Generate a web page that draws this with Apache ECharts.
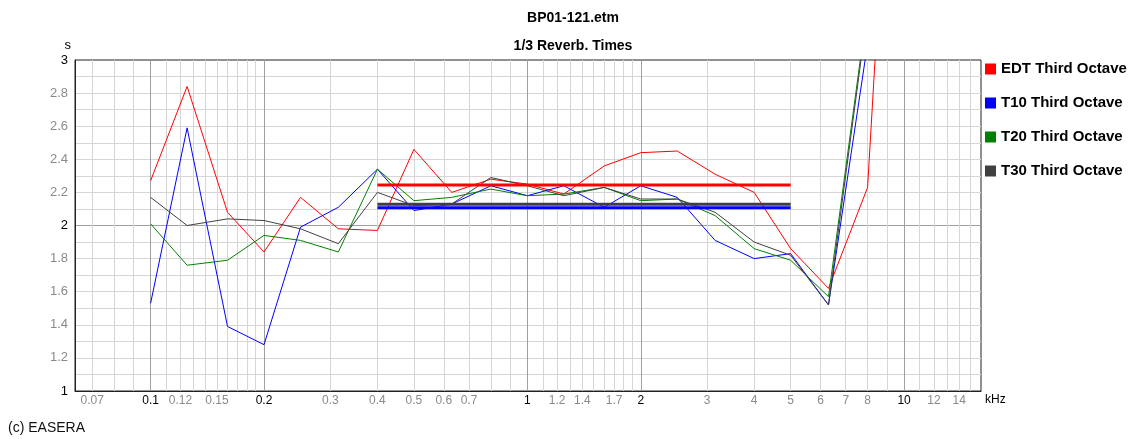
<!DOCTYPE html>
<html>
<head>
<meta charset="utf-8">
<title>BP01-121.etm - 1/3 Reverb. Times</title>
<script src="https://cdn.jsdelivr.net/npm/echarts@6/dist/echarts.min.js"></script>
<style>
  html, body { margin: 0; padding: 0; background: #ffffff; }
  #chart { width: 1146px; height: 439px; }
</style>
</head>
<body>
<div id="chart"></div>
<script>
// Third-octave band centre frequencies (kHz)
const freqs = [0.1, 0.125, 0.16, 0.2, 0.25, 0.315, 0.4, 0.5, 0.63, 0.8, 1, 1.25, 1.6, 2, 2.5, 3.15, 4, 5, 6.3, 8, 10];

// Reverberation times per band (s)
const edt = [2.27, 2.84, 2.08, 1.84, 2.17, 1.98, 1.97, 2.46, 2.20, 2.28, 2.25, 2.19, 2.36, 2.44, 2.45, 2.31, 2.20, 1.86, 1.62, 2.23, 6.0];
const t10 = [1.53, 2.59, 1.39, 1.28, 1.99, 2.11, 2.34, 2.09, 2.13, 2.24, 2.18, 2.24, 2.11, 2.24, 2.17, 1.91, 1.80, 1.83, 1.52, 3.10, 5.5];
const t20 = [2.01, 1.76, 1.79, 1.94, 1.91, 1.84, 2.34, 2.15, 2.17, 2.22, 2.18, 2.19, 2.23, 2.15, 2.16, 2.06, 1.86, 1.79, 1.57, 3.33, 5.5];
const t30 = [2.17, 2.00, 2.04, 2.03, 1.98, 1.89, 2.20, 2.12, 2.13, 2.29, 2.24, 2.18, 2.23, 2.16, 2.16, 2.08, 1.90, 1.82, 1.52, 3.30, 5.5];

// Averages over the 400 Hz - 5 kHz range
const avgRange = [0.4, 5];
const edtAvg = 2.245;
const t10Avg = 2.108;
const t30Avg = 2.128;

const seriesNames = ['EDT Third Octave', 'T10 Third Octave', 'T20 Third Octave', 'T30 Third Octave'];
const seriesColors = ['#ff0000', '#0000ff', '#008000', '#404040'];

// Frequency grid (kHz)
const xMin = 0.063, xMax = 16;
const majorGrid = [0.1, 0.2, 1, 2, 10];
const minorGrid = [0.07, 0.08, 0.09,
  0.11, 0.12, 0.13, 0.14, 0.15, 0.16, 0.17, 0.18, 0.19,
  0.3, 0.4, 0.5, 0.6, 0.7, 0.8, 0.9,
  1.1, 1.2, 1.3, 1.4, 1.5, 1.6, 1.7, 1.8, 1.9,
  3, 4, 5, 6, 7, 8, 9,
  11, 12, 13, 14, 15];
const xTickLabels = ['0.07', '0.1', '0.12', '0.15', '0.2', '0.3', '0.4', '0.5', '0.6', '0.7',
  '1', '1.2', '1.4', '1.7', '2', '3', '4', '5', '6', '7', '8', '10', '12', '14'];
const yTickLabels = ['1', '1.2', '1.4', '1.6', '1.8', '2', '2.2', '2.4', '2.6', '2.8', '3'];
const yMajor = ['1', '2', '3'];

const FONT = '"Liberation Sans", Arial, sans-serif';

function pairs(xs, ys) { return xs.map((x, i) => [x, ys[i]]); }

// Vertical frequency grid lines with their labels under the plot
const gridMarks = [];
majorGrid.concat(minorGrid).sort((a, b) => a - b).forEach(f => {
  const isMajor = majorGrid.indexOf(f) >= 0;
  const txt = xTickLabels.find(s => parseFloat(s) === f);
  gridMarks.push({
    xAxis: f,
    name: txt || '',
    lineStyle: { color: isMajor ? '#a0a0a0' : '#d6d6d6', width: 1, type: 'solid' },
    label: {
      show: !!txt,
      formatter: '{b}',
      position: 'start',
      distance: 4,
      color: isMajor ? '#000000' : '#8a8a8a',
      fontFamily: FONT,
      fontSize: 12
    }
  });
});

const curveSeries = seriesNames.map((name, i) => ({
  name: name,
  type: 'line',
  data: pairs(freqs, [edt, t10, t20, t30][i]),
  symbol: 'none',
  clip: true,
  z: 10,
  lineStyle: { color: seriesColors[i], width: 1 },
  itemStyle: { color: seriesColors[i] }
}));

function avgSeries(name, value, color) {
  return {
    name: name,
    type: 'line',
    data: [[avgRange[0], value], [avgRange[1], value]],
    symbol: 'none',
    z: 11,
    lineStyle: { color: color, width: 3 },
    itemStyle: { color: color }
  };
}

const chart = echarts.init(document.getElementById('chart'), null, { renderer: 'canvas' });

chart.setOption({
  animation: false,
  backgroundColor: '#ffffff',
  title: {
    text: 'BP01-121.etm\n1/3 Reverb. Times',
    left: 'center',
    top: -1,
    textStyle: { fontFamily: FONT, fontSize: 14, fontWeight: 'bold', color: '#000', lineHeight: 28 }
  },
  legend: {
    orient: 'vertical',
    left: 985,
    top: 61,
    padding: 0,
    data: seriesNames,
    icon: 'rect',
    itemWidth: 11,
    itemHeight: 11,
    itemGap: 18,
    textStyle: { fontFamily: FONT, fontSize: 15, fontWeight: 'bold', color: '#000', lineHeight: 16 },
    selectedMode: false
  },
  grid: {
    left: 75, top: 60, right: 165, bottom: 48,
    show: true, borderColor: '#222', borderWidth: 1, backgroundColor: '#ffffff'
  },
  xAxis: {
    type: 'log',
    logBase: 10,
    min: xMin,
    max: xMax,
    axisLine: { show: true, lineStyle: { color: '#222' } },
    axisTick: { show: false },
    axisLabel: { show: false },
    splitLine: { show: false },
    minorSplitLine: { show: false }
  },
  yAxis: [{
    type: 'value',
    min: 1, max: 3, interval: 0.1,
    name: 's',
    nameLocation: 'end',
    nameGap: 15,
    nameTextStyle: { fontFamily: FONT, fontSize: 13, color: '#000', align: 'right', verticalAlign: 'middle', padding: [0, 4, 0, 0] },
    axisLine: { show: true, lineStyle: { color: '#222' } },
    axisTick: { show: false },
    axisLabel: {
      margin: 7,
      formatter: v => {
        const s = String(Math.round(v * 10) / 10);
        if (yTickLabels.indexOf(s) < 0) return '';
        return yMajor.indexOf(s) >= 0 ? '{d|' + s + '}' : '{g|' + s + '}';
      },
      rich: {
        d: { fontFamily: FONT, fontSize: 13, color: '#000' },
        g: { fontFamily: FONT, fontSize: 13, color: '#8a8a8a' }
      }
    },
    splitLine: { show: true, showMinLine: false, showMaxLine: false, lineStyle: { color: '#d6d6d6', width: 1 } }
  }, {
    type: 'value',
    min: 1, max: 3, interval: 1,
    position: 'left',
    axisLine: { show: false },
    axisTick: { show: false },
    axisLabel: { show: false },
    splitLine: { show: true, showMinLine: false, showMaxLine: false, lineStyle: { color: '#a0a0a0', width: 1 } }
  }],
  graphic: [{
    type: 'text',
    left: 985,
    top: 394,
    style: { text: 'kHz', fontFamily: FONT, fontSize: 12, fill: '#000' }
  }, {
    type: 'text',
    left: 8,
    top: 421,
    style: { text: '(c) EASERA', fontFamily: FONT, fontSize: 14, fill: '#111' }
  }],
  series: [{
    name: 'frequency grid',
    type: 'line',
    data: [],
    silent: true,
    z: 1,
    markLine: {
      silent: true,
      symbol: ['none', 'none'],
      animation: false,
      data: gridMarks
    }
  }].concat(curveSeries, [
    avgSeries('EDT average', edtAvg, '#ff0000'),
    avgSeries('T30 average', t30Avg, '#404040'),
    avgSeries('T10 average', t10Avg, '#0000ff')
  ])
});
</script>
</body>
</html>
